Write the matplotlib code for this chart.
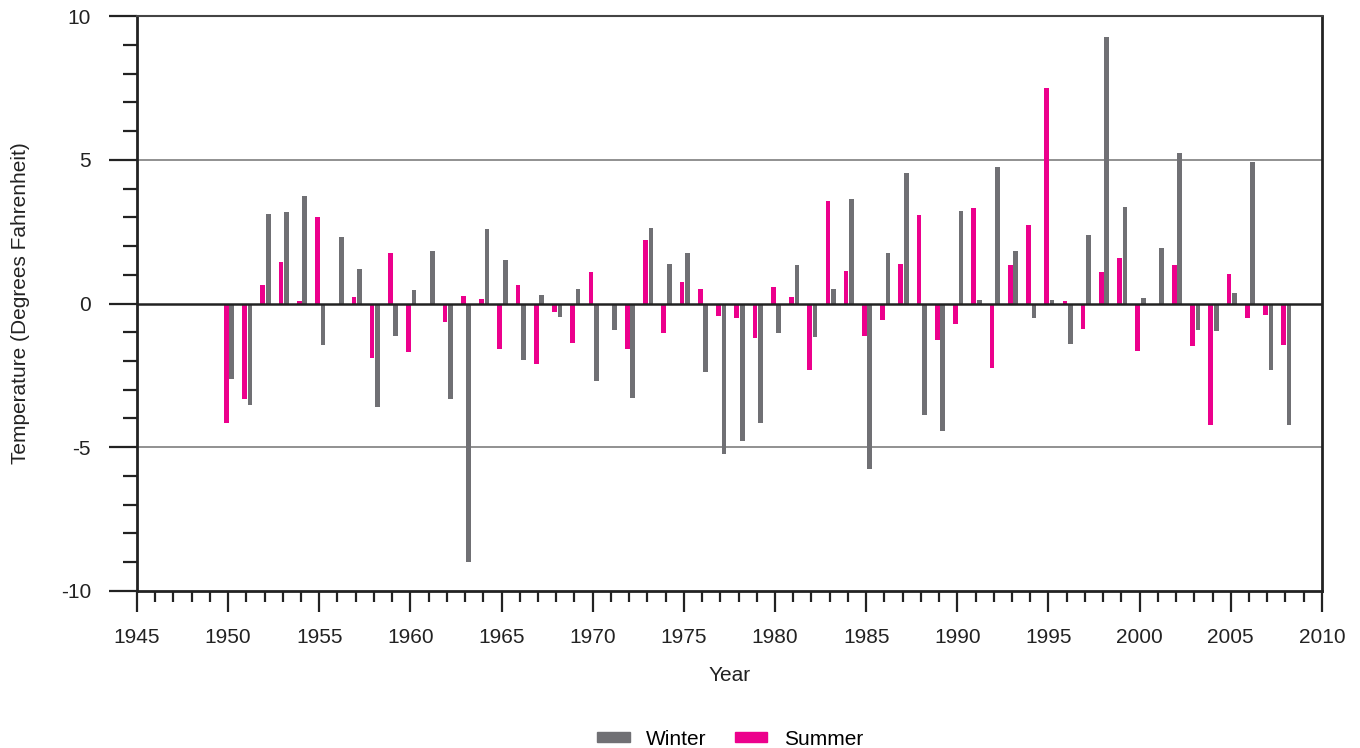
import numpy as np
import matplotlib.pyplot as plt
from matplotlib.patches import Rectangle
from matplotlib.ticker import MultipleLocator

plt.rcParams['font.family'] = ['Liberation Sans', 'DejaVu Sans']
plt.rcParams['axes.unicode_minus'] = False

years = np.arange(1950, 2009)

# winter and summer temperature anomalies (deg F)
winter = [-2.61, -3.52, 3.11, 3.18, 3.74, -1.43, 2.31, 1.21, -3.59, -1.14,
          0.47, 1.81, -3.32, -9.0, 2.58, 1.50, -1.98, 0.29, -0.47, 0.52,
          -2.71, -0.91, -3.28, 2.64, 1.36, 1.77, -2.37, -5.25, -4.78, -4.16,
          -1.01, 1.33, -1.18, 0.52, 3.64, -5.75, 1.74, 4.55, -3.89, -4.42,
          3.21, 0.13, 4.76, 1.81, -0.50, 0.13, -1.41, 2.37, 9.27, 3.37,
          0.20, 1.93, 5.24, -0.91, -0.97, 0.36, 4.92, -2.31, -4.22]
summer = [-4.16, -3.32, 0.63, 1.43, 0.07, 3.01, 0.0, 0.21, -1.91, 1.77,
          -1.69, 0.0, -0.64, 0.27, 0.16, -1.59, 0.66, -2.11, -0.30, -1.37,
          1.09, 0.0, -1.58, 2.20, -1.04, 0.76, 0.52, -0.44, -0.50, -1.21,
          0.56, 0.23, -2.32, 3.57, 1.13, -1.14, -0.56, 1.36, 3.08, -1.27,
          -0.73, 3.31, -2.25, 1.33, 2.74, 7.49, 0.09, -0.87, 1.10, 1.60,
          -1.64, -0.03, 1.33, -1.48, -4.22, 1.04, -0.50, -0.41, -1.43]

grey = '#707074'
pink = '#ec008c'

fig = plt.figure(figsize=(13.6, 7.48), dpi=100)
ax = fig.add_axes([0.1007, 0.2099, 0.8713, 0.7687])

ax.bar(years - 0.1, summer, width=0.26, color=pink, zorder=3)
ax.bar(years + 0.2, winter, width=0.26, color=grey, zorder=3)

ax.set_xlim(1945, 2010)
ax.set_ylim(-10, 10)

# horizontal reference lines
for yv in [-5, 5]:
    ax.axhline(yv, color='#888888', lw=1.3, zorder=1)
ax.axhline(0, color='#222222', lw=1.8, zorder=4)

ax.xaxis.set_major_locator(MultipleLocator(5))
ax.xaxis.set_minor_locator(MultipleLocator(1))
ax.yaxis.set_major_locator(MultipleLocator(5))
ax.yaxis.set_minor_locator(MultipleLocator(1))

ax.tick_params(axis='x', which='major', length=15, width=1.6, pad=12,
               labelsize=15, colors='#222222')
ax.tick_params(axis='x', which='minor', length=8, width=1.6, colors='#222222')
ax.tick_params(axis='y', which='major', length=20, width=1.6, pad=13,
               labelsize=15, colors='#222222')
ax.tick_params(axis='y', which='minor', length=10, width=1.6, colors='#222222')

for s in ['left', 'bottom', 'right']:
    ax.spines[s].set_linewidth(2)
    ax.spines[s].set_color('#222222')
ax.spines['top'].set_linewidth(1.5)
ax.spines['top'].set_color('#444444')

ax.set_xlabel('Year', fontsize=15, color='#222222', labelpad=13)
ax.set_ylabel('Temperature (Degrees Fahrenheit)', fontsize=15,
              color='#222222', labelpad=22)

handles = [Rectangle((0, 0), 1, 1, color=grey), Rectangle((0, 0), 1, 1, color=pink)]
fig.legend(handles, ['Winter', 'Summer'], loc='center',
           bbox_to_anchor=(0.537, 0.012), ncol=2, frameon=False, fontsize=15,
           handlelength=1.55, handleheight=0.38, handletextpad=0.8,
           columnspacing=1.35)

fig.savefig('out.png', dpi=100)
